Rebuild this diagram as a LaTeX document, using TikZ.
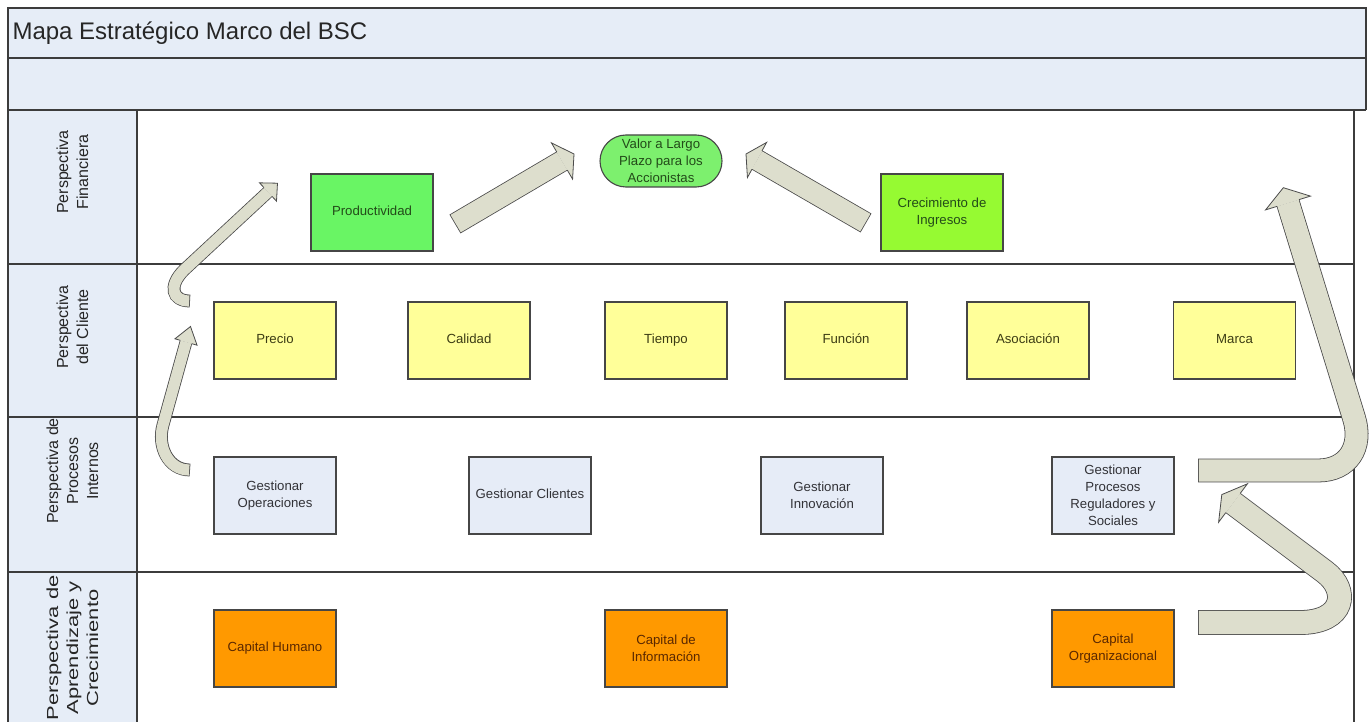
\documentclass[tikz,border=0pt]{standalone}
\usepackage{fontspec}
\setmainfont{Liberation Sans}
\usetikzlibrary{calc}
\definecolor{bandblue}{RGB}{230,237,247}
\definecolor{frameline}{RGB}{60,60,60}
\definecolor{boxline}{RGB}{70,70,70}
\definecolor{greenA}{RGB}{105,245,100}
\definecolor{greenB}{RGB}{150,250,50}
\definecolor{greenC}{RGB}{125,240,110}
\definecolor{greentext}{RGB}{35,75,25}
\definecolor{yellowbox}{RGB}{255,255,153}
\definecolor{yellowtext}{RGB}{60,60,20}
\definecolor{bluebox}{RGB}{230,236,247}
\definecolor{bluetext}{RGB}{50,50,55}
\definecolor{orangebox}{RGB}{255,153,0}
\definecolor{orangetext}{RGB}{90,40,0}
\definecolor{afill}{RGB}{221,222,205}
\definecolor{aline}{RGB}{75,75,75}
\tikzset{
  frame/.style={draw=frameline, line width=1.5pt},
  box/.style={draw=boxline, line width=1.1pt, minimum width=122pt, minimum height=77pt,
    inner sep=1pt, align=center, font=\fontsize{13.2}{17}\selectfont},
  oneline/.style={execute at begin node=\strut},
  finbox/.style={box, text=greentext},
  clibox/.style={box, oneline, fill=yellowbox, text=yellowtext},
  probox/.style={box, fill=bluebox, text=bluetext},
  aprbox/.style={box, fill=orangebox, text=orangetext},
  lanelabel/.style={rotate=90, align=center, font=\fontsize{16}{20}\selectfont, text=black!85}
}
% #1 shaft path (tail ... base), #2 base, #3 tip, #4 shaft half width, #5 head half width
\newcommand{\blockarrow}[5]{%
  \draw[aline, line width={2*#4+0.8}, line cap=butt] #1;
  \draw[afill, line width={2*#4-0.8}, line cap=butt, shorten <=0.8pt] #1;
  \filldraw[fill=afill, draw=aline, line width=0.8pt, line join=miter]
    ($(#2)!#4pt!90:(#3)$) -- ($(#2)!#5pt!90:(#3)$) -- (#3) --
    ($(#2)!#5pt!-90:(#3)$) -- ($(#2)!#4pt!-90:(#3)$);
}
\begin{document}
\begin{tikzpicture}[x=1pt,y=-1pt]
\useasboundingbox (0,0) rectangle (1369,722);
% background bands
\path[fill=white] (0,0) rectangle (1369,722);
\path[fill=bandblue] (8,8) rectangle (1366,110);
\path[fill=bandblue] (8,110) rectangle (137,722);
% frame and lane lines
\draw[frame] (8,722) -- (8,8) -- (1366,8) -- (1366,110);
\draw[frame] (8,58) -- (1366,58);
\draw[frame] (8,110) -- (1366,110);
\draw[frame] (137,110) -- (137,722);
\draw[frame] (1354,110) -- (1354,722);
\draw[frame] (8,264) -- (1354,264);
\draw[frame] (8,417) -- (1354,417);
\draw[frame] (8,572) -- (1354,572);
% title
\node[anchor=west, font=\fontsize{24}{28}\selectfont, text=black!85] (title) at (9,33) {Mapa Estratégico Marco del BSC};
% lane labels
\node[lanelabel] (lfin) at (72.5,172) {Perspectiva\\Financiera};
\node[lanelabel] (lcli) at (72.5,327) {Perspectiva\\del Cliente};
\node[lanelabel] (lpro) at (72.5,471) {Perspectiva de\\Procesos\\Internos};
\node[lanelabel, xscale=1.37] (lapr) at (72.5,648) {Perspectiva de\\Aprendizaje y\\Crecimiento};
% financial
\node[finbox, oneline, fill=greenA] (prod) at (372,212.5) {Productividad};
\node[finbox, fill=greenB] (crec) at (942,212.5) {Crecimiento de\\Ingresos};
\node[finbox, fill=greenC, rounded corners=26pt, minimum height=52pt] (valor) at (661,161) {Valor a Largo\\Plazo para los\\Accionistas};
% customer
\node[clibox] (precio) at (275,340.5) {Precio};
\node[clibox] (calidad) at (469,340.5) {Calidad};
\node[clibox] (tiempo) at (666,340.5) {Tiempo};
\node[clibox] (funcion) at (846,340.5) {Función};
\node[clibox] (asoc) at (1028,340.5) {Asociación};
\node[clibox] (marca) at (1234.5,340.5) {Marca};
% internal processes
\node[probox] (gop) at (275,495.5) {Gestionar\\Operaciones};
\node[probox, oneline] (gcl) at (530,495.5) {Gestionar Clientes};
\node[probox] (gin) at (822,495.5) {Gestionar\\Innovación};
\node[probox] (grs) at (1113,495.5) {Gestionar\\Procesos\\Reguladores y\\Sociales};
% learning
\node[aprbox, oneline] (chum) at (275,648.5) {Capital Humano};
\node[aprbox] (cinf) at (666,648.5) {Capital de\\Información};
\node[aprbox] (corg) at (1113,648.5) {Capital\\Organizacional};
% arrow coordinates
\coordinate (aT) at (190,470); \coordinate (aB) at (186,342); \coordinate (aH) at (190.5,326.5);
\coordinate (bT) at (190,301); \coordinate (bB) at (268,192); \coordinate (bH) at (277.5,183.2);
\coordinate (cT) at (455,224); \coordinate (cB) at (562,161); \coordinate (cH) at (574,154);
\coordinate (dT) at (866,223); \coordinate (dB) at (757,160); \coordinate (dH) at (746,154);
\coordinate (eT) at (1198,470.5); \coordinate (eB) at (1288,203); \coordinate (eH) at (1283.3,187.7);
\coordinate (fT) at (1198,622.5); \coordinate (fB) at (1233,503); \coordinate (fH) at (1221.8,494.6);
% block arrows
\blockarrow{(aT) .. controls (168,470) and (157,446) .. (163,425) -- (aB)}{aB}{aH}{6}{11.5}
\blockarrow{(bT) .. controls (172,301) and (168,286) .. (184,270) -- (bB)}{bB}{bH}{6}{12.5}
\blockarrow{(cT) -- (cB)}{cB}{cH}{10.5}{21}
\blockarrow{(dT) -- (dB)}{dB}{dH}{10.5}{20}
\blockarrow{(eT) -- (1318,470.5) .. controls (1348,470.5) and (1363,447) .. (1354,418) -- (eB)}{eB}{eH}{11.5}{23.5}
\blockarrow{(fT) -- (1300,622.5) .. controls (1345,622.5) and (1349,590) .. (1325,572) -- (fB)}{fB}{fH}{12}{24}
\end{tikzpicture}
\end{document}
